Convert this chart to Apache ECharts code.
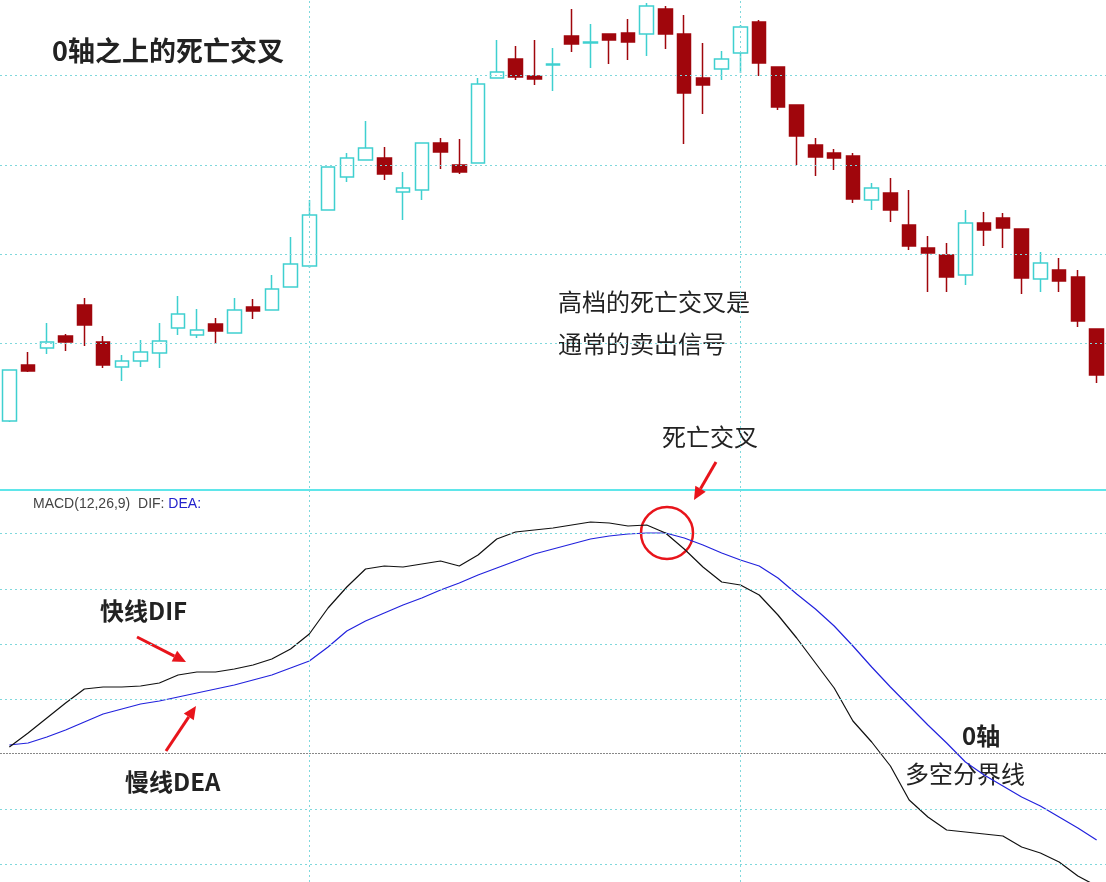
<!DOCTYPE html>
<html>
<head>
<meta charset="utf-8">
<script src="https://cdn.jsdelivr.net/npm/echarts@6/dist/echarts.min.js"></script>
<style>
  html, body { margin: 0; padding: 0; background: #fff; }
  #main { width: 1106px; height: 882px; }
</style>
</head>
<body>
<div id="main"></div>
<script>
// K线数据 [open, close, low, high]
var kData = [
  [79,130,78,130],[135,129,128,148],[152,158,146,177],[164,158,149,166],[195,175,154,202],
  [158,135,132,164],[133,139,119,145],[139,148,133,160],[147,159,132,177],[172,186,165,204],
  [165,170,162,191],[176,169,156,182],[167,190,167,202],[193,189,181,201],[190,211,190,225],
  [213,236,213,263],[234,285,232,300],[290,333,290,333],[323,342,318,347],[340,352,340,379],
  [342,326,320,353],[308,312,280,328],[310,357,300,357],[357,348,331,362],[335,328,326,361],
  [337,416,337,422],[422,428,422,460],[441,423,420,454],[424,421,415,460],[435,436,409,452],
  [464,456,448,491],[457,458,432,476],[466,460,436,466],[467,458,440,481],[466,494,444,497],
  [491,466,451,494],[466,407,356,485],[422,415,386,457],[431,441,420,449],[447,473,427,475],
  [478,437,424,480],[433,393,390,433],[395,364,335,395],[355,343,324,362],[347,342,330,351],
  [344,301,297,347],[300,312,290,317],[307,290,278,322],[275,254,250,310],[252,247,208,264],
  [245,223,208,257],[225,277,215,290],[277,270,254,288],[282,272,252,287],[271,222,206,271],
  [221,237,208,248],[230,219,208,242],[223,179,173,230],[171,125,117,171]
];
// 快线DIF
var dif = [6,20,35,50,64,66,66,67,70,78,81,81,84,88,94,104,119,145,166,184,
  187,186,189,192,187,198,214,221,223,225,228,231,230,227,228,220,204,186,171,168,
  158,138,115,90,65,32,11,-13,-47,-64,-77,-79,-81,-83,-94,-100,-109,-123,-133];
// 慢线DEA
var dea = [8,10,16,23,31,39,44,49,52,56,60,64,68,73,78,85,92,106,122,132,
  140,148,155,163,170,178,185,192,199,204,209,214,217,219,220,220,215,208,200,193,
  187,175,159,144,127,107,86,66,47,28,10,-9,-22,-33,-44,-53,-64,-75,-87];
var days = kData.map(function (d, i) { return i + 1; });
var kGrid = [425, 335, 246, 157];
var macdGrid = [220, 164, 109, 54, -56, -111];
var vLines = [16, 39];

var dotted = { color: '#7fd8dc', type: [2, 3], width: 1 };

function hLines(vals) {
  return vals.map(function (v) { return { yAxis: v }; });
}
function arrow(x1, y1, x2, y2) {
  var a = Math.atan2(y2 - y1, x2 - x1), L = 13, W = 6;
  var bx = x2 - L * Math.cos(a), by = y2 - L * Math.sin(a);
  return [
    { type: 'line', shape: { x1: x1, y1: y1, x2: bx, y2: by }, style: { stroke: '#e8141b', lineWidth: 3 } },
    { type: 'polygon', shape: { points: [[x2, y2],
      [bx + W * Math.sin(a), by - W * Math.cos(a)], [bx - W * Math.sin(a), by + W * Math.cos(a)]] },
      style: { fill: '#e8141b' } }
  ];
}
function txt(x, y, s, size, weight) {
  return { type: 'text', x: x, y: y, style: { text: s, fontSize: size, fontWeight: weight || 'bold',
    fill: '#222', fontFamily: 'Noto Sans CJK SC', textVerticalAlign: 'middle' } };
}

var chart = echarts.init(document.getElementById('main'));
chart.setOption({
  animation: false,
  backgroundColor: '#fff',
  grid: [
    { left: 0, right: 0, top: 0, height: 488 },
    { left: 0, right: 0, top: 490, height: 392 }
  ],
  xAxis: [
    { type: 'category', data: days, gridIndex: 0, show: false },
    { type: 'category', data: days, gridIndex: 1, show: false }
  ],
  yAxis: [
    { type: 'value', gridIndex: 0, min: 12, max: 500, show: false, splitLine: { show: false } },
    { type: 'value', gridIndex: 1, min: -129, max: 263, show: false, splitLine: { show: false } }
  ],
  series: [
    {
      type: 'candlestick', xAxisIndex: 0, yAxisIndex: 0, data: kData, barWidth: 14,
      itemStyle: { color: '#fff', borderColor: '#3fd0d0', color0: '#a0060c', borderColor0: '#a0060c', borderWidth: 1.5 },
      markLine: {
        silent: true, symbol: 'none', label: { show: false }, lineStyle: dotted,
        data: hLines(kGrid).concat(vLines.map(function (i) { return { xAxis: i }; }))
      }
    },
    {
      type: 'line', xAxisIndex: 1, yAxisIndex: 1, data: dif, showSymbol: false,
      lineStyle: { color: '#111', width: 1.2 }, z: 3,
      markLine: {
        silent: true, symbol: 'none', label: { show: false }, lineStyle: dotted,
        data: hLines(macdGrid).concat(vLines.map(function (i) { return { xAxis: i }; }))
          .concat([{ yAxis: 0, lineStyle: { color: '#888', type: [2, 1], width: 1 } }])
      }
    },
    {
      type: 'line', xAxisIndex: 1, yAxisIndex: 1, data: dea, showSymbol: false,
      lineStyle: { color: '#2222dd', width: 1.2 }, z: 2
    }
  ],
  graphic: [
    { type: 'line', shape: { x1: 0, y1: 490, x2: 1106, y2: 490 }, style: { stroke: '#5fe6ea', lineWidth: 2 } },
    { type: 'text', x: 33, y: 504, style: { text: '{a|MACD(12,26,9)  DIF: }{b|DEA:}', textVerticalAlign: 'middle',
      rich: { a: { fontSize: 14, fill: '#444', fontFamily: 'Liberation Sans' },
              b: { fontSize: 14, fill: '#2222cc', fontFamily: 'Liberation Sans' } } } },
    txt(52, 51, '0轴之上的死亡交叉', 27),
    txt(558, 302, '高档的死亡交叉是', 24, 'normal'),
    txt(558, 344, '通常的卖出信号', 24, 'normal'),
    txt(662, 437, '死亡交叉', 24, 'normal'),
    txt(100, 611, '快线DIF', 24),
    txt(125, 782, '慢线DEA', 24),
    txt(962, 736, '0轴', 24),
    txt(905, 774, '多空分界线', 24, 'normal'),
    { type: 'circle', shape: { cx: 667, cy: 533, r: 26 }, style: { fill: 'none', stroke: '#e8141b', lineWidth: 2.5 } }
  ].concat(arrow(716, 462, 694, 500), arrow(137, 637, 186, 662), arrow(166, 751, 196, 706))
});
</script>
</body>
</html>
